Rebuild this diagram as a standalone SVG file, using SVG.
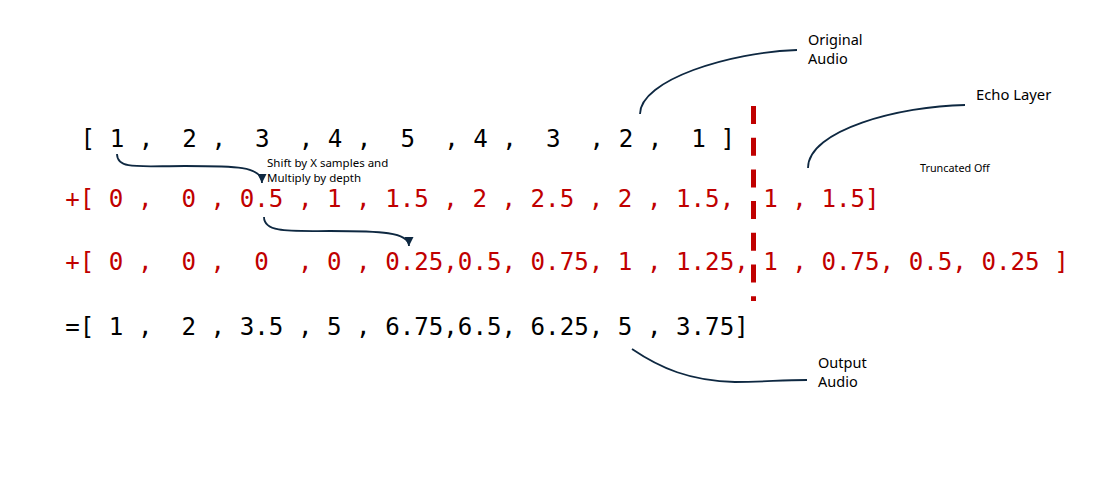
<svg xmlns="http://www.w3.org/2000/svg" width="1105" height="480" viewBox="0 0 1105 480">
<style>
.mono{font-family:"DejaVu Sans Mono","Liberation Mono",monospace;font-size:24.17px;white-space:pre}
.blk{fill:#000}
.red{fill:#C00000}
.lbl{font-family:"Noto Sans","Liberation Sans",sans-serif;fill:#000}
.conn{fill:none;stroke:#0E2841;stroke-width:1.8}
</style>
<defs>
<marker id="ah" viewBox="0 0 10 10" refX="10" refY="5" markerWidth="10" markerHeight="9" markerUnits="userSpaceOnUse" orient="auto">
<path d="M0,0 L10,5 L0,10 z" fill="#0E2841"/>
</marker>
</defs>
<rect width="1105" height="480" fill="#fff"/>
<g id="row-original"><text class="mono blk" x="66" y="147" xml:space="preserve"> [ 1 ,  2 ,  3  , 4 ,  5  , 4 ,  3  , 2 ,  1 ]</text></g>
<g id="row-echo1"><text class="mono red" x="65.2" y="207" xml:space="preserve">+[ 0 ,  0 , 0.5 , 1 , 1.5 , 2 , 2.5 , 2 , 1.5,  1 , 1.5]</text></g>
<g id="row-echo2"><text class="mono red" x="65.2" y="270" xml:space="preserve">+[ 0 ,  0 ,  0  , 0 , 0.25,0.5, 0.75, 1 , 1.25, 1 , 0.75, 0.5, 0.25 ]</text></g>
<g id="row-output"><text class="mono blk" x="65.2" y="335" xml:space="preserve">=[ 1 ,  2 , 3.5 , 5 , 6.75,6.5, 6.25, 5 , 3.75]</text></g>
<g id="truncation-line"><line x1="753.5" y1="106" x2="753.5" y2="301" stroke="#C00000" stroke-width="5" stroke-dasharray="18 13.7"/></g>
<g id="label-shift"><text class="lbl" font-size="11.5" x="267" y="166.5">Shift by X samples and</text><text class="lbl" font-size="11.5" x="267" y="181.5">Multiply by depth</text></g>
<g id="label-original"><text class="lbl" font-size="14.5" x="808" y="45">Original</text><text class="lbl" font-size="14.5" x="808" y="64">Audio</text></g>
<g id="label-echo"><text class="lbl" font-size="14.8" x="976" y="99.5">Echo Layer</text></g>
<g id="label-truncated"><text class="lbl" font-size="10.8" x="920" y="171.5">Truncated Off</text></g>
<g id="label-output"><text class="lbl" font-size="14.5" x="818" y="367.5">Output</text><text class="lbl" font-size="14.5" x="818" y="387">Audio</text></g>
<g id="connectors">
<path class="conn" marker-end="url(#ah)" d="M117,154 C117,170 140,166 185,166 C235,166 262,166 262,183"/>
<path class="conn" marker-end="url(#ah)" d="M264,217 C264,233 290,231 330,231 C380,231 409,232 409,246"/>
<path class="conn" d="M640,114 C640,80 730,52 797,50"/>
<path class="conn" d="M808,168 C808,130 900,106 965,105"/>
<path class="conn" d="M632,349 C660,368 690,381 735,382 C765,382 780,380 807,380"/>
</g>
</svg>
